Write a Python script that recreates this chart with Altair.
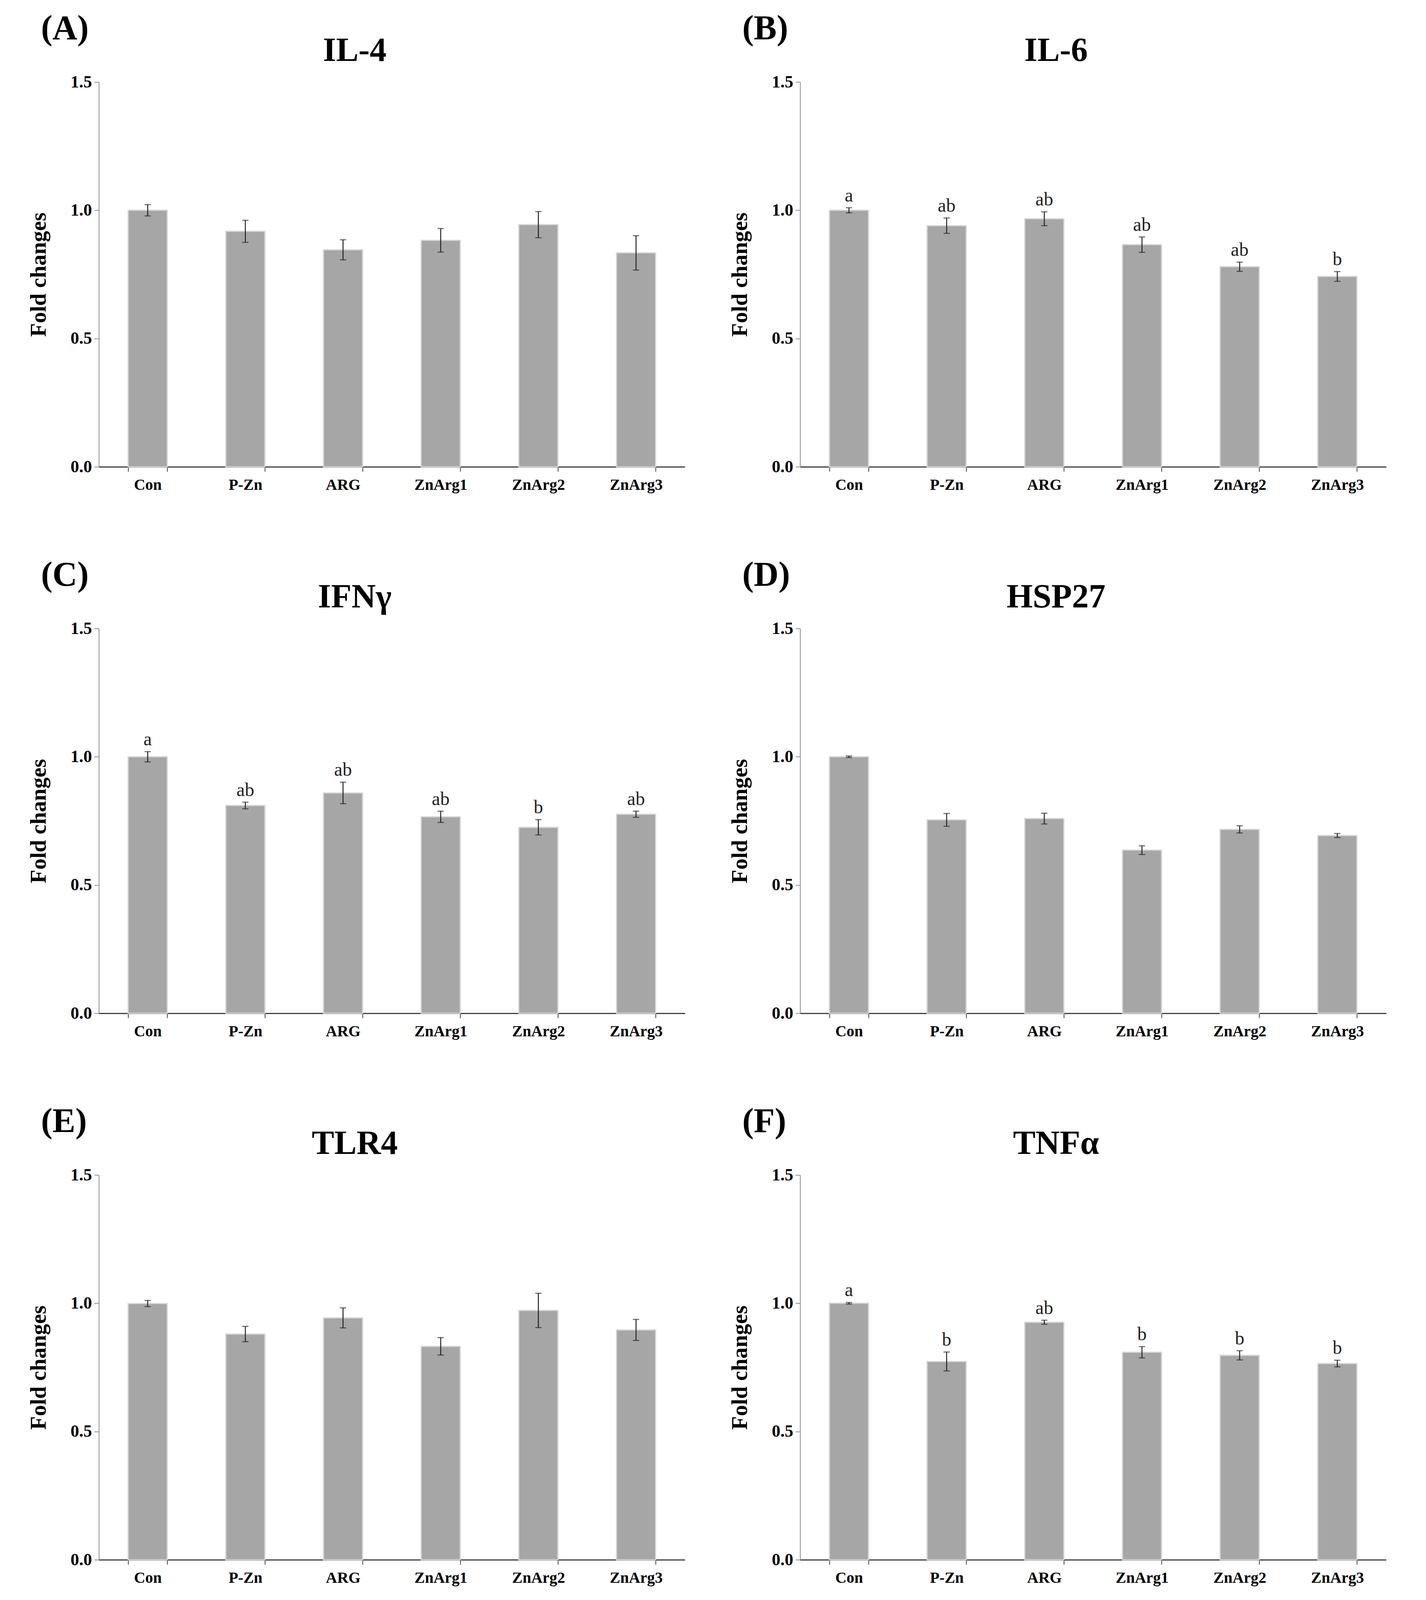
import altair as alt
import pandas as pd

categories = ["Con", "P-Zn", "ARG", "ZnArg1", "ZnArg2", "ZnArg3"]
panel_letters = ["(A)", "(B)", "(C)", "(D)", "(E)", "(F)"]
genes = ["IL-4", "IL-6", "IFNγ", "HSP27", "TLR4", "TNFα"]

il4_mean = [1.00, 0.918, 0.846, 0.883, 0.944, 0.834]
il4_err = [0.022, 0.043, 0.039, 0.046, 0.051, 0.067]
il4_sig = ["", "", "", "", "", ""]

il6_mean = [1.00, 0.94, 0.967, 0.866, 0.78, 0.742]
il6_err = [0.01, 0.03, 0.027, 0.03, 0.018, 0.019]
il6_sig = ["a", "ab", "ab", "ab", "ab", "b"]

ifng_mean = [1.00, 0.81, 0.859, 0.766, 0.725, 0.776]
ifng_err = [0.02, 0.013, 0.042, 0.022, 0.03, 0.012]
ifng_sig = ["a", "ab", "ab", "ab", "b", "ab"]

hsp27_mean = [1.00, 0.754, 0.759, 0.636, 0.717, 0.693]
hsp27_err = [0.003, 0.025, 0.021, 0.017, 0.014, 0.008]
hsp27_sig = ["", "", "", "", "", ""]

tlr4_mean = [0.999, 0.88, 0.943, 0.832, 0.972, 0.896]
tlr4_err = [0.012, 0.03, 0.039, 0.034, 0.067, 0.041]
tlr4_sig = ["", "", "", "", "", ""]

tnfa_mean = [1.00, 0.773, 0.926, 0.809, 0.797, 0.765]
tnfa_err = [0.003, 0.037, 0.008, 0.022, 0.018, 0.013]
tnfa_sig = ["a", "b", "ab", "b", "b", "b"]

W = 1500
H = 985
FONT = "Liberation Serif"
BAR = "#A6A6A6"


def panel(letter, gene, means, errs, sigs):
    df = pd.DataFrame({
        "cat": categories,
        "mean": means,
        "lo": [m - e for m, e in zip(means, errs)],
        "hi": [m + e for m, e in zip(means, errs)],
        "sig": sigs,
    })
    x = alt.X("cat:N", sort=categories,
              scale=alt.Scale(paddingInner=0.6, paddingOuter=0.3),
              axis=alt.Axis(title=None, labelAngle=0, tickBand="extent",
                            tickSize=12, tickColor="#404040", tickWidth=2,
                            domainColor="#404040", domainWidth=3,
                            labelFont=FONT, labelFontSize=40,
                            labelFontWeight="bold", labelColor="black",
                            labelPadding=14))
    y = alt.Y("mean:Q", scale=alt.Scale(domain=[0, 1.5], nice=False),
              axis=alt.Axis(title="Fold changes", values=[0, 0.5, 1.0, 1.5],
                            format=".1f", grid=False, tickSize=12,
                            tickColor="#8c8c8c", tickWidth=2,
                            domainColor="#8c8c8c", domainWidth=2,
                            labelFont=FONT, labelFontSize=44,
                            labelFontWeight="bold", labelColor="black",
                            labelPadding=6,
                            titleFont=FONT, titleFontSize=57,
                            titleFontWeight="bold", titleColor="black",
                            titlePadding=52))
    base = alt.Chart(df)
    bars = base.mark_bar(color=BAR, stroke="#d6d6d6", strokeWidth=3).encode(x=x, y=y)
    rule = base.mark_rule(color="#222222", strokeWidth=2.5).encode(
        x=alt.X("cat:N", sort=categories), y="lo:Q", y2="hi:Q")
    cap_lo = base.mark_tick(color="#222222", size=16, thickness=2.5).encode(
        x=alt.X("cat:N", sort=categories), y="lo:Q")
    cap_hi = base.mark_tick(color="#222222", size=16, thickness=2.5).encode(
        x=alt.X("cat:N", sort=categories), y="hi:Q")
    sig = base.mark_text(font=FONT, fontSize=48, color="#222222",
                         baseline="alphabetic", dy=-16).encode(
        x=alt.X("cat:N", sort=categories), y="hi:Q", text="sig:N")
    letter_t = alt.Chart(pd.DataFrame({"t": [letter]})).mark_text(
        font=FONT, fontSize=88, fontWeight="bold", color="black",
        align="left", baseline="top").encode(
        x=alt.value(-148), y=alt.value(-180), text="t:N")
    gene_t = alt.Chart(pd.DataFrame({"t": [gene]})).mark_text(
        font=FONT, fontSize=86, fontWeight="bold", color="black",
        align="center", baseline="alphabetic").encode(
        x=alt.value(W / 2 - 95), y=alt.value(-54), text="t:N")
    return alt.layer(bars, rule, cap_lo, cap_hi, sig, letter_t, gene_t).properties(
        width=W, height=H)


pA = panel(panel_letters[0], genes[0], il4_mean, il4_err, il4_sig)
pB = panel(panel_letters[1], genes[1], il6_mean, il6_err, il6_sig)
pC = panel(panel_letters[2], genes[2], ifng_mean, ifng_err, ifng_sig)
pD = panel(panel_letters[3], genes[3], hsp27_mean, hsp27_err, hsp27_sig)
pE = panel(panel_letters[4], genes[4], tlr4_mean, tlr4_err, tlr4_sig)
pF = panel(panel_letters[5], genes[5], tnfa_mean, tnfa_err, tnfa_sig)

chart = alt.vconcat(
    alt.hconcat(pA, pB, spacing=112),
    alt.hconcat(pC, pD, spacing=112),
    alt.hconcat(pE, pF, spacing=112),
    spacing=168,
).properties(
    padding={"left": 62, "top": 22, "right": 5, "bottom": 5},
    background="white",
).configure_view(stroke=None)

chart.save("out.html", embed_options={"renderer": "svg", "actions": False})
